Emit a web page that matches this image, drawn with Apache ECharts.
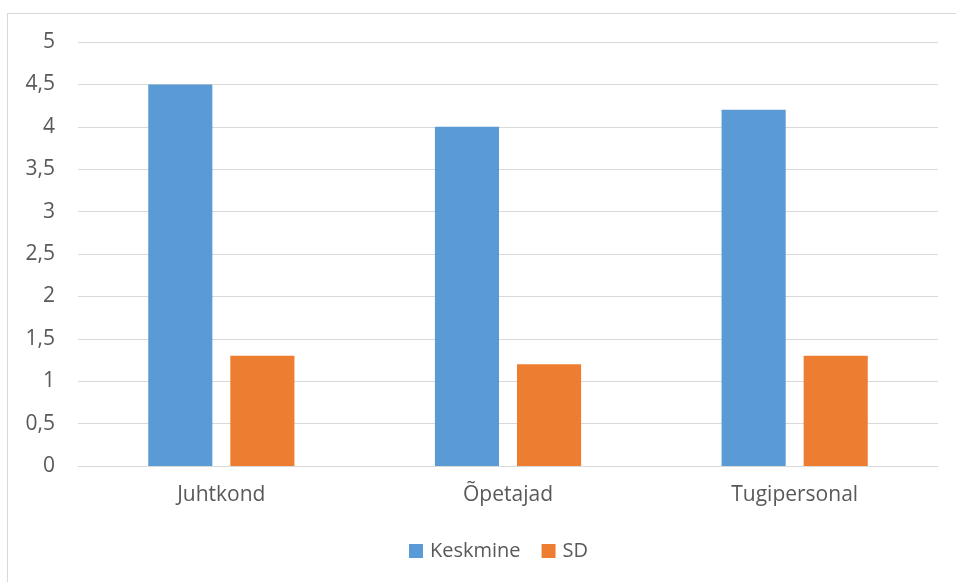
<!DOCTYPE html>
<html>
<head>
<meta charset="utf-8">
<script src="https://cdn.jsdelivr.net/npm/echarts@6/dist/echarts.min.js"></script>
<style>
  html, body { margin: 0; padding: 0; background: #fff; }
  #frame { position: absolute; left: 7px; top: 13px; width: 960px; height: 580px; border: 1px solid #D9D9D9; box-sizing: border-box; }
  #chart { position: absolute; left: 0; top: 0; width: 956px; height: 582px; }
</style>
</head>
<body>
<div id="frame"></div>
<div id="chart"></div>
<script>
// Group names and statistics per group
const categories = ['Juhtkond', 'Õpetajad', 'Tugipersonal'];
const meanValues = [4.5, 4.0, 4.2];
const sdValues = [1.3, 1.2, 1.3];
const seriesNames = ['Keskmine', 'SD'];

const font = '"Open Sans", "Liberation Sans", sans-serif';
const chart = echarts.init(document.getElementById('chart'), null, { renderer: 'canvas' });

chart.setOption({
  animation: false,
  backgroundColor: 'transparent',
  textStyle: { fontFamily: font },
  grid: { left: 78, right: 18, top: 42, bottom: 116, containLabel: false },
  legend: {
    top: 536,
    left: 404,
    itemWidth: 14,
    itemHeight: 14,
    itemGap: 21,
    icon: 'rect',
    textStyle: { fontFamily: font, fontSize: 20, color: '#595959', padding: [0, 0, 0, 2] },
    data: seriesNames
  },
  xAxis: {
    type: 'category',
    data: categories,
    axisTick: { show: false },
    axisLine: { lineStyle: { color: '#D9D9D9', width: 1 } },
    axisLabel: { fontFamily: font, fontSize: 21, color: '#595959', margin: 19 }
  },
  yAxis: {
    type: 'value',
    min: 0,
    max: 5,
    interval: 0.5,
    axisLine: { show: false },
    axisTick: { show: false },
    splitLine: { lineStyle: { color: '#D9D9D9', width: 1 } },
    axisLabel: {
      fontFamily: font, fontSize: 21, color: '#595959', margin: 23,
      formatter: v => String(v).replace('.', ',')
    }
  },
  series: [
    {
      name: seriesNames[0], type: 'bar', data: meanValues,
      itemStyle: { color: '#5B9BD5' },
      barGap: '28%', barCategoryGap: '49%'
    },
    {
      name: seriesNames[1], type: 'bar', data: sdValues,
      itemStyle: { color: '#ED7D31' },
      barGap: '28%', barCategoryGap: '49%'
    }
  ]
});
</script>
</body>
</html>
